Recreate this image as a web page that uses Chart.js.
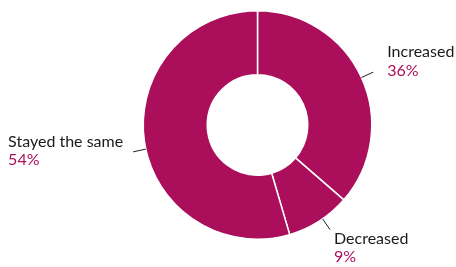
<!DOCTYPE html>
<html>
<head>
<meta charset="utf-8">
<script src="https://cdn.jsdelivr.net/npm/chart.js@4"></script>
<style>
  html, body { margin: 0; padding: 0; background: #fff; }
  #wrap { width: 456px; height: 267px; }
</style>
</head>
<body>
<div id="wrap"><canvas id="donut"></canvas></div>
<script>
const categories = ["Increased", "Decreased", "Stayed the same"];
const shares = [36, 9, 54];
const shareLabels = ["36%", "9%", "54%"];

const magenta = "#AB0F5C";

// where each label sits relative to the end of its leader line (tilt in degrees)
const labelPlace = [
  { tilt: 0, dx: 14, dy: -15 },
  { tilt: -2, dx: 4, dy: 14 },
  { tilt: -4, dx: -125, dy: -5 }
];

const leaderLabels = {
  id: "leaderLabels",
  afterDatasetsDraw(chart) {
    const ctx = chart.ctx;
    const arcs = chart.getDatasetMeta(0).data;
    ctx.save();
    arcs.forEach((arc, i) => {
      const p = arc.getProps(["x", "y", "startAngle", "endAngle", "outerRadius"], true);
      const pl = labelPlace[i];
      const mid = (p.startAngle + p.endAngle) / 2 + pl.tilt * Math.PI / 180;
      const r0 = p.outerRadius;
      const r1 = p.outerRadius + 13;
      const x0 = p.x + Math.cos(mid) * r0, y0 = p.y + Math.sin(mid) * r0;
      const x1 = p.x + Math.cos(mid) * r1, y1 = p.y + Math.sin(mid) * r1;
      ctx.strokeStyle = "#222";
      ctx.lineWidth = 1;
      ctx.beginPath();
      ctx.moveTo(x0, y0);
      ctx.lineTo(x1, y1);
      ctx.stroke();

      const tx = x1 + pl.dx, ty = y1 + pl.dy;
      ctx.textAlign = "left";
      ctx.textBaseline = "alphabetic";
      ctx.font = "16px Lato";
      ctx.fillStyle = "#1a1a1a";
      ctx.fillText(categories[i], tx, ty);
      ctx.fillStyle = magenta;
      ctx.fillText(shareLabels[i], tx, ty + 18.5);
    });
    ctx.restore();
  }
};

new Chart(document.getElementById("donut"), {
  type: "doughnut",
  data: {
    labels: categories,
    datasets: [{
      data: shares,
      backgroundColor: magenta,
      borderColor: "#fff",
      borderWidth: 1.5
    }]
  },
  options: {
    responsive: true,
    maintainAspectRatio: false,
    animation: false,
    cutout: "44%",
    layout: { padding: { top: 10, bottom: 27, left: 100, right: 41 } },
    plugins: {
      legend: { display: false },
      tooltip: { enabled: false }
    }
  },
  plugins: [leaderLabels]
});
</script>
</body>
</html>
